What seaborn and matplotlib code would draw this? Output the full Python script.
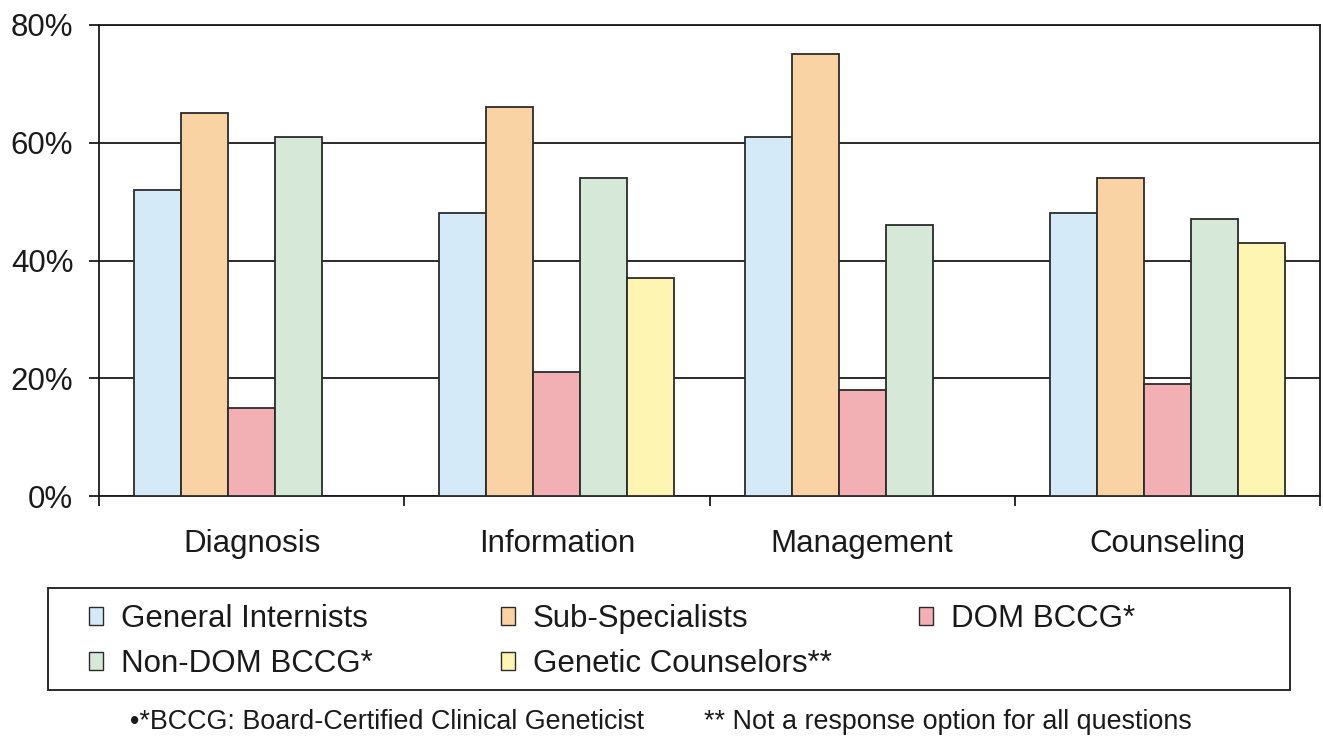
import matplotlib
matplotlib.use("Agg")
import matplotlib.pyplot as plt
import matplotlib.patches as mpatches
from matplotlib.ticker import FuncFormatter, FixedLocator
import seaborn as sns
import pandas as pd

# Survey results: share of respondents per topic and respondent group
categories = ["Diagnosis", "Information", "Management", "Counseling"]
series_names = ["General Internists", "Sub-Specialists", "DOM BCCG*",
                "Non-DOM BCCG*", "Genetic Counselors**"]
general_internists = [52, 48, 61, 48]
sub_specialists = [65, 66, 75, 54]
dom_bccg = [15, 21, 18, 19]
non_dom_bccg = [61, 54, 46, 47]
genetic_counselors = [None, 37, None, 43]  # not asked for every question
y_ticks = [0, 20, 40, 60, 80]

colors = ["#D4EAF8", "#FAD3A4", "#F2B0B4", "#D6E8D8", "#FFF5B3"]

values = [general_internists, sub_specialists, dom_bccg,
          non_dom_bccg, genetic_counselors]
rows = []
for name, vals in zip(series_names, values):
    for cat, v in zip(categories, vals):
        if v is not None:
            rows.append({"topic": cat, "group": name, "pct": v})
df = pd.DataFrame(rows)

sns.set_theme(style="white")
plt.rcParams["font.family"] = ["Liberation Sans", "DejaVu Sans"]

fig = plt.figure(figsize=(13.23, 7.41), dpi=100)
ax = fig.add_axes([99 / 1323, 1 - 496 / 741, (1320 - 99) / 1323, (496 - 25) / 741])

sns.barplot(data=df, x="topic", y="pct", hue="group",
            order=categories, hue_order=series_names,
            palette=colors, width=0.77, gap=0, dodge=True,
            edgecolor="#2b2b2b", linewidth=1.3, saturation=1,
            errorbar=None, legend=False, ax=ax, zorder=3)

ax.set_xlim(-0.5, len(categories) - 0.5)
ax.set_ylim(0, 80)
ax.set_yticks(y_ticks)
ax.yaxis.set_major_formatter(FuncFormatter(lambda v, p: f"{v:.0f}%"))
ax.set_xlabel("")
ax.set_ylabel("")

ax.yaxis.grid(True, color="#1a1a1a", linewidth=1.3)
ax.xaxis.grid(False)
ax.set_axisbelow(True)

for side in ["left", "right", "bottom", "top"]:
    ax.spines[side].set_visible(True)
    ax.spines[side].set_color("#1a1a1a")
    ax.spines[side].set_linewidth(1.3)

ax.tick_params(axis="y", which="major", left=True, length=7.5, width=1.3,
               color="#1a1a1a", pad=11, labelsize=22.5, labelcolor="#1a1a1a")
ax.tick_params(axis="x", which="major", bottom=False, length=0, pad=24,
               labelsize=22.5, labelcolor="#1a1a1a")
ax.xaxis.set_minor_locator(FixedLocator([i - 0.5 for i in range(len(categories) + 1)]))
ax.tick_params(axis="x", which="minor", bottom=True, length=7.5, width=1.3,
               color="#1a1a1a")

# Legend: three aligned columns inside one frame
handles = [mpatches.Patch(facecolor=c, edgecolor="#2b2b2b", linewidth=1.0)
           for c in colors]
columns = [[0, 3], [1, 4], [2]]
col_x = [89, 501, 919]
for xs, idx in zip(col_x, columns):
    fig.legend([handles[i] for i in idx], [series_names[i] for i in idx],
               loc="upper left", bbox_to_anchor=(xs / 1323, 1 - 604 / 741),
               frameon=False, fontsize=22.5, handlelength=0.46,
               handleheight=0.55, handletextpad=0.55, labelspacing=0.48,
               borderpad=0, borderaxespad=0, labelcolor="#1a1a1a")

frame = mpatches.Rectangle((48 / 1323, 1 - 690 / 741), (1290 - 48) / 1323,
                           (690 - 588) / 741, transform=fig.transFigure,
                           fill=False, edgecolor="#1a1a1a", linewidth=1.3)
fig.add_artist(frame)

fig.text(130 / 1323, 1 - 722 / 741, "•*BCCG: Board-Certified Clinical Geneticist",
         ha="left", va="center", fontsize=19.4, color="#1a1a1a")
fig.text(704 / 1323, 1 - 722 / 741, "** Not a response option for all questions",
         ha="left", va="center", fontsize=19.4, color="#1a1a1a")

fig.savefig("out.png", dpi=100, facecolor="white")
